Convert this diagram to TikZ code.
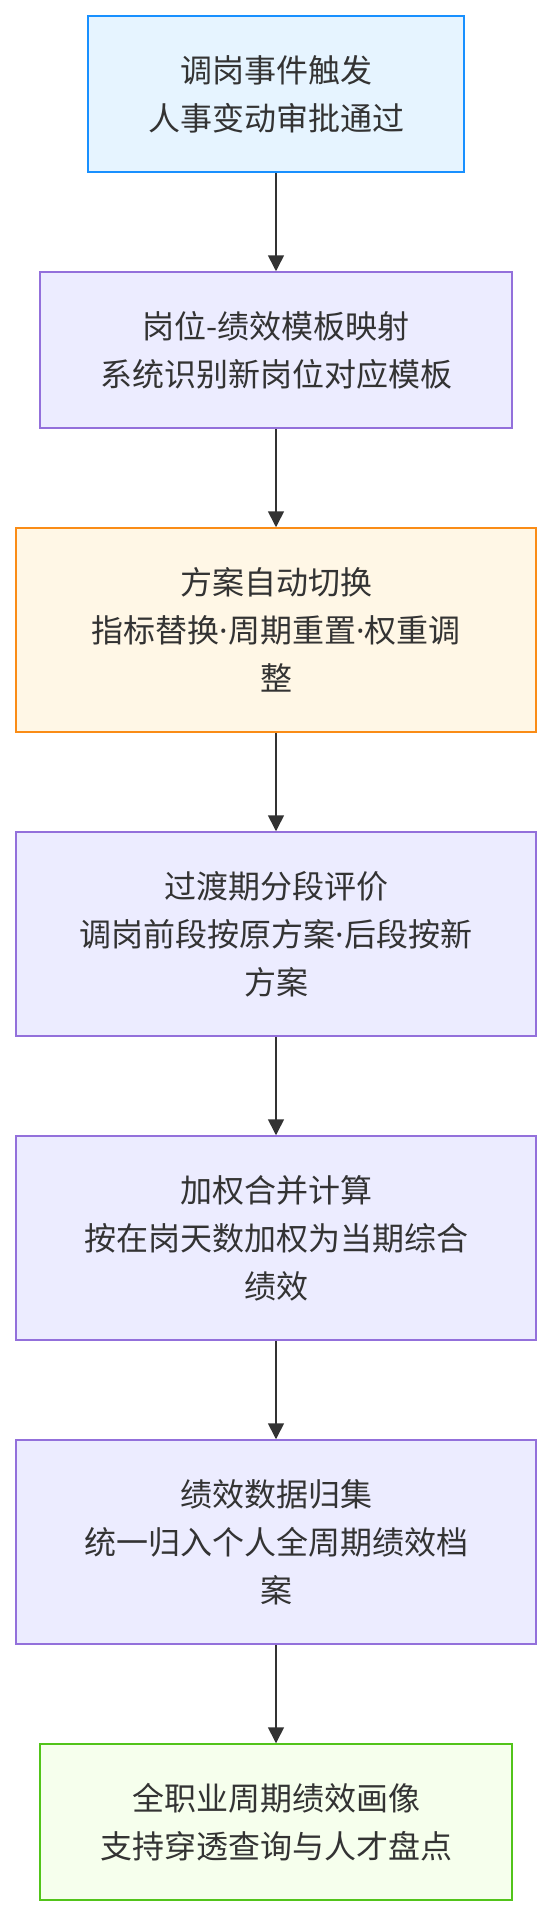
\documentclass[tikz,border=0pt]{standalone}
\usepackage{fontspec}
\setmainfont{Noto Sans CJK SC}
\newfontfamily\latinfont{Noto Sans}
\newcommand\mdot{{\latinfont ·}}
\usetikzlibrary{arrows.meta}
\definecolor{txt}{HTML}{333333}
\definecolor{bluefill}{HTML}{E6F4FF}
\definecolor{blueline}{HTML}{1890FF}
\definecolor{purpfill}{HTML}{ECECFF}
\definecolor{purpline}{HTML}{9370DB}
\definecolor{orfill}{HTML}{FFF7E6}
\definecolor{orline}{HTML}{FA8C16}
\definecolor{grfill}{HTML}{F6FFED}
\definecolor{grline}{HTML}{52C41A}

\begin{document}
\begin{tikzpicture}[x=1pt,y=-1pt,
  box/.style={draw, line width=1.5pt, inner sep=0pt, align=center, text=txt,
    font=\fontsize{32}{48}\selectfont, fill=purpfill, draw=purpline},
  flow/.style={draw=txt, line width=1.6pt, -{Triangle[length=16pt,width=16pt]}}]
\useasboundingbox (0,0) rectangle (552,1916);
\def\w{520pt}
\node[box, fill=bluefill, draw=blueline, minimum width=376pt, minimum height=156pt] (trig) at (276, 94) {调岗事件触发\\人事变动审批通过};
\node[box, minimum width=472pt, minimum height=156pt] (map) at (276, 350) {岗位-绩效模板映射\\系统识别新岗位对应模板};
\node[box, fill=orfill, draw=orline, minimum width=\w, minimum height=204pt] (swap) at (276, 630) {方案自动切换\\指标替换\mdot 周期重置\mdot 权重调\\整};
\node[box, minimum width=\w, minimum height=204pt] (trans) at (276, 934) {过渡期分段评价\\调岗前段按原方案\mdot 后段按新\\方案};
\node[box, minimum width=\w, minimum height=204pt] (calc) at (276, 1238) {加权合并计算\\按在岗天数加权为当期综合\\绩效};
\node[box, minimum width=\w, minimum height=204pt] (coll) at (276, 1542) {绩效数据归集\\统一归入个人全周期绩效档\\案};
\node[box, fill=grfill, draw=grline, minimum width=472pt, minimum height=156pt] (port) at (276, 1822) {全职业周期绩效画像\\支持穿透查询与人才盘点};

\draw[flow] (trig) -- (map);
\draw[flow] (map) -- (swap);
\draw[flow] (swap) -- (trans);
\draw[flow] (trans) -- (calc);
\draw[flow] (calc) -- (coll);
\draw[flow] (coll) -- (port);
\end{tikzpicture}
\end{document}
